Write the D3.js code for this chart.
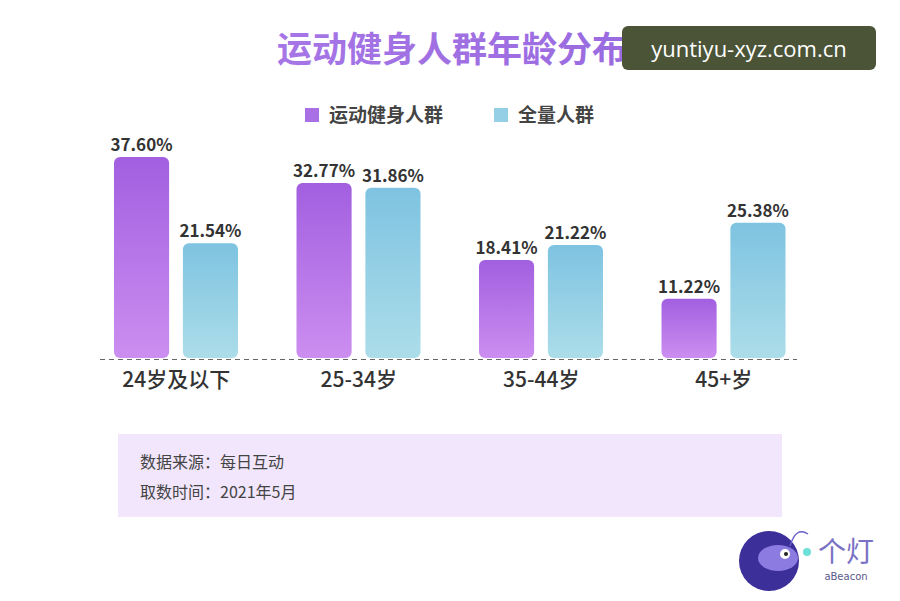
<!DOCTYPE html>
<html>
<head>
<meta charset="utf-8">
<script src="https://cdn.jsdelivr.net/npm/d3@7"></script>
<style>
  body { margin: 0; background: #fff; }
  svg { display: block; font-family: "Noto Sans CJK SC", "Noto Sans", sans-serif; }
</style>
</head>
<body>
<div id="chart"></div>
<script>
const categories = ["24岁及以下", "25-34岁", "35-44岁", "45+岁"]
const seriesNames = ["运动健身人群", "全量人群"]
const fitness = [37.60, 32.77, 18.41, 11.22]
const overall = [21.54, 31.86, 21.22, 25.38]
const sourceLines = ["数据来源：每日互动", "取数时间：2021年5月"]

const WIDTH = 900
const HEIGHT = 601
const BASE = 359

const svg = d3.select("#chart").append("svg")
  .attr("width", WIDTH)
  .attr("height", HEIGHT)

const defs = svg.append("defs")
const grads = [["gPurple", "#a25fe0", "#cc8ef0"], ["gBlue", "#7ec3e1", "#acdde9"]]
grads.forEach(([id, top, bottom]) => {
  const g = defs.append("linearGradient").attr("id", id)
    .attr("x1", 0).attr("y1", 0).attr("x2", 0).attr("y2", 1)
  g.append("stop").attr("offset", "0%").attr("stop-color", top)
  g.append("stop").attr("offset", "100%").attr("stop-color", bottom)
})
const tg = defs.append("linearGradient").attr("id", "gTitle")
  .attr("x1", 0).attr("y1", 0).attr("x2", 1).attr("y2", 0)
tg.append("stop").attr("offset", "0%").attr("stop-color", "#a675e6")
tg.append("stop").attr("offset", "100%").attr("stop-color", "#9a6be0")

// title (partly hidden by the watermark, as in the source)
svg.append("text")
  .attr("x", 452).attr("y", 62)
  .attr("text-anchor", "middle")
  .attr("font-size", 35).attr("font-weight", 700)
  .attr("fill", "url(#gTitle)")
  .text("运动健身人群年龄分布")

// legend
const legend = svg.append("g")
const legendX = [305, 494]
seriesNames.forEach((name, i) => {
  legend.append("rect")
    .attr("x", legendX[i]).attr("y", 108).attr("width", 14).attr("height", 14)
    .attr("fill", i === 0 ? "#a970e6" : "#95cfe5")
  legend.append("text")
    .attr("x", legendX[i] + 24).attr("y", 122)
    .attr("font-size", 19).attr("font-weight", 700).attr("fill", "#444")
    .text(name)
})

// scales
const y = d3.scaleLinear().domain([0, 37.6]).range([BASE, 157])
const x0 = d3.scaleBand().domain(categories).range([85, 815]).padding(0)
const x1 = d3.scaleBand().domain(seriesNames)
  .range([29, x0.bandwidth() - 29.5]).paddingInner(0.2)

const data = categories.map((c, i) => ({
  cat: c,
  vals: [
    { s: seriesNames[0], v: fitness[i] },
    { s: seriesNames[1], v: overall[i] }
  ]
}))

const groups = svg.selectAll("g.grp")
  .data(data)
  .enter().append("g")
  .attr("class", "grp")
  .attr("transform", d => `translate(${x0(d.cat)},0)`)

groups.selectAll("rect")
  .data(d => d.vals)
  .enter().append("rect")
  .attr("x", d => x1(d.s))
  .attr("y", d => y(d.v))
  .attr("width", x1.bandwidth())
  .attr("height", d => BASE - y(d.v) - 1)
  .attr("rx", 6)
  .attr("fill", (d, i) => i === 0 ? "url(#gPurple)" : "url(#gBlue)")

groups.selectAll("text.val")
  .data(d => d.vals)
  .enter().append("text")
  .attr("class", "val")
  .attr("x", d => x1(d.s) + x1.bandwidth() / 2)
  .attr("y", d => y(d.v) - 6)
  .attr("text-anchor", "middle")
  .attr("font-size", 17).attr("font-weight", 700).attr("fill", "#333")
  .text(d => d.v.toFixed(2) + "%")

// baseline
svg.append("line")
  .attr("x1", 100).attr("x2", 797).attr("y1", BASE + 0.5).attr("y2", BASE + 0.5)
  .attr("stroke", "#666").attr("stroke-width", 1).attr("stroke-dasharray", "5,4")

// category axis
const xAxis = svg.append("g")
  .attr("transform", `translate(0,${BASE})`)
  .call(d3.axisBottom(x0).tickSize(0).tickPadding(13))
xAxis.select(".domain").remove()
xAxis.selectAll("text")
  .attr("font-size", 21).attr("font-weight", 500).attr("fill", "#333")
  .attr("font-family", "'Noto Sans CJK SC', sans-serif")

// source box
svg.append("rect")
  .attr("x", 118).attr("y", 434).attr("width", 664).attr("height", 83)
  .attr("fill", "#f1e6fb")
sourceLines.forEach((t, i) => {
  svg.append("text")
    .attr("x", 140).attr("y", 468 + i * 30)
    .attr("font-size", 16).attr("fill", "#444")
    .text(t)
})

// logo
const logo = svg.append("g")
logo.append("circle").attr("cx", 769).attr("cy", 561).attr("r", 30).attr("fill", "#3c2f9a")
logo.append("ellipse").attr("cx", 778).attr("cy", 558).attr("rx", 20).attr("ry", 13).attr("fill", "#8c7be0")
logo.append("circle").attr("cx", 785).attr("cy", 554).attr("r", 5).attr("fill", "#fff")
logo.append("circle").attr("cx", 786).attr("cy", 554).attr("r", 2).attr("fill", "#222")
logo.append("path").attr("d", "M790,546 Q796,526 808,534").attr("fill", "none").attr("stroke", "#6a5fc8").attr("stroke-width", 1.5)
logo.append("circle").attr("cx", 807).attr("cy", 552).attr("r", 4).attr("fill", "#6ee0d8")
logo.append("text").attr("x", 846).attr("y", 562).attr("text-anchor", "middle")
  .attr("font-size", 28).attr("fill", "#7a72c4").text("个灯")
logo.append("text").attr("x", 846).attr("y", 580).attr("text-anchor", "middle")
  .attr("font-size", 10).attr("fill", "#5a5a8a").attr("font-family", "DejaVu Sans, sans-serif").text("aBeacon")

// watermark
const wm = svg.append("g")
wm.append("rect")
  .attr("x", 622).attr("y", 26).attr("width", 254).attr("height", 44).attr("rx", 6)
  .attr("fill", "#4b5437")
wm.append("text")
  .attr("x", 749).attr("y", 57).attr("text-anchor", "middle")
  .attr("font-size", 22).attr("fill", "#fff").attr("font-family", "'Open Sans', 'Noto Sans', sans-serif")
  .text("yuntiyu-xyz.com.cn")
</script>
</body>
</html>
